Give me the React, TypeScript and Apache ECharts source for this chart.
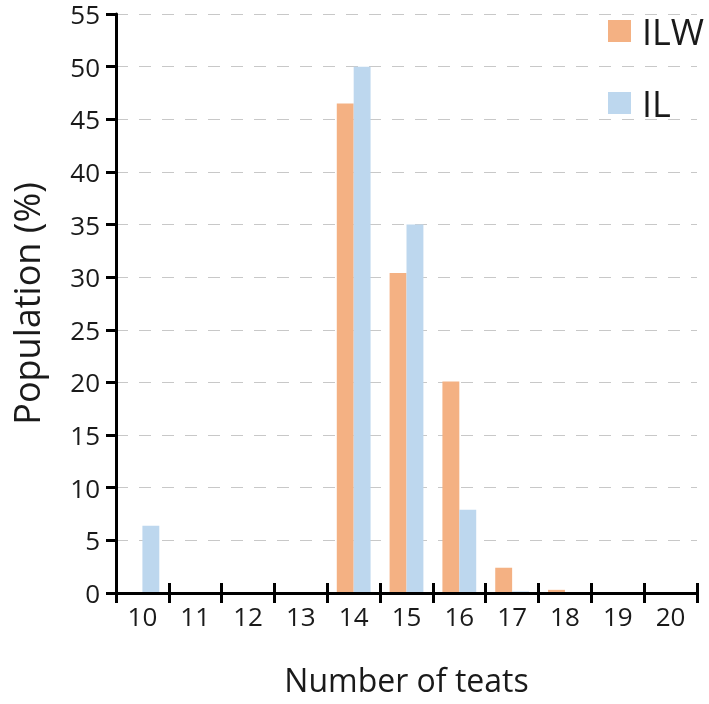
import React, { useEffect, useRef } from "react";
import * as echarts from "echarts";

const categories = ["10", "11", "12", "13", "14", "15", "16", "17", "18", "19", "20"];
const ilwValues = [0, 0, 0, 0, 46.5, 30.4, 20.1, 2.4, 0.3, 0, 0];
const ilValues = [6.4, 0, 0, 0, 50.0, 35.0, 7.9, 0.15, 0, 0, 0];
const seriesNames = ["ILW", "IL"];
const seriesColors = ["#F4B183", "#BDD7EE"];

const FONT = "Open Sans";
const TEXT = "#1a1a1a";

export default function App() {
  const ref = useRef<HTMLDivElement>(null);
  useEffect(() => {
    if (!ref.current) return;
    const chart = echarts.init(ref.current, undefined, { renderer: "svg" });
    chart.setOption({
      animation: false,
      textStyle: { fontFamily: FONT, color: TEXT },
      grid: { left: 113, right: 12, top: 14, bottom: 111, containLabel: false },
      legend: {
        orient: "vertical",
        left: 608,
        top: 12,
        padding: 0,
        itemWidth: 23,
        itemHeight: 22,
        itemGap: 34,
        icon: "rect",
        data: seriesNames,
        textStyle: { fontFamily: FONT, fontSize: 36, color: TEXT, lineHeight: 38, padding: [0, 0, 0, 6] },
      },
      xAxis: [
        {
          type: "category",
          data: categories,
          boundaryGap: true,
          name: "Number of teats",
          nameLocation: "middle",
          nameGap: 70,
          nameTextStyle: { fontFamily: FONT, fontSize: 32, color: TEXT },
          axisLine: { lineStyle: { color: "#000", width: 3 } },
          axisTick: { show: true, length: 10, lineStyle: { color: "#000", width: 3 } },
          axisLabel: { fontFamily: FONT, fontSize: 26, color: TEXT, margin: 10 },
          z: 5,
        },
        {
          type: "category",
          data: categories,
          position: "bottom",
          offset: 0,
          boundaryGap: true,
          axisLine: { show: true, lineStyle: { color: "#000", width: 3 } },
          axisTick: { show: true, inside: true, length: 10, lineStyle: { color: "#000", width: 3 } },
          axisLabel: { show: false },
          splitLine: { show: false },
          z: 5,
        },
      ],
      yAxis: {
        type: "value",
        min: 0,
        max: 55,
        interval: 5,
        name: "Population (%)",
        nameLocation: "middle",
        nameGap: 72,
        nameTextStyle: { fontFamily: FONT, fontSize: 36, color: TEXT },
        axisLine: { show: true, lineStyle: { color: "#000", width: 3 } },
        axisTick: { show: true, length: 10, lineStyle: { color: "#000", width: 3 } },
        axisLabel: { fontFamily: FONT, fontSize: 26, color: TEXT, margin: 16 },
        splitLine: { show: true, lineStyle: { color: "#c8c8c8", width: 1, type: [12, 11] } },
      },
      series: [
        {
          name: seriesNames[0],
          type: "bar",
          data: ilwValues,
          itemStyle: { color: seriesColors[0] },
          barGap: "0%",
          barCategoryGap: "36%",
        },
        {
          name: seriesNames[1],
          type: "bar",
          data: ilValues,
          itemStyle: { color: seriesColors[1] },
          barGap: "0%",
          barCategoryGap: "36%",
        },
        {
          name: "_ticks",
          type: "line",
          xAxisIndex: 1,
          data: [],
          silent: true,
          showSymbol: false,
        },
      ],
    });
    return () => chart.dispose();
  }, []);
  return <div ref={ref} style={{ position: "fixed", left: 0, top: 0, width: 709, height: 704 }} />;
}
